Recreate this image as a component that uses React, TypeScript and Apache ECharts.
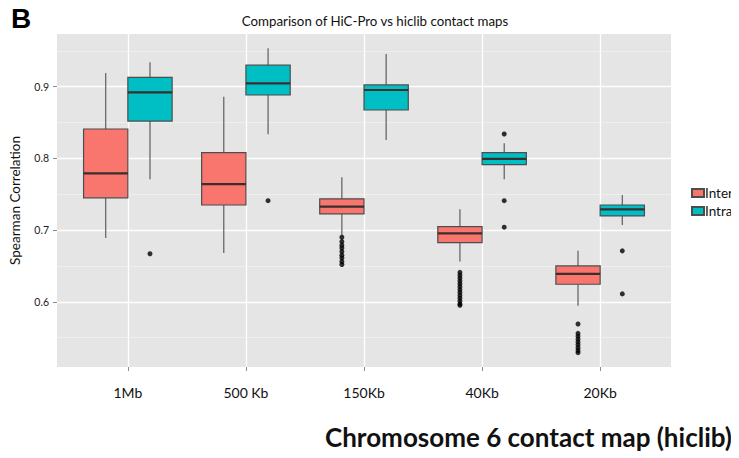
import React, { useEffect, useRef } from "react";
import * as echarts from "echarts";

const categories = ["1Mb", "500 Kb", "150Kb", "40Kb", "20Kb"];
const seriesNames = ["Inter", "Intra"];
// [lower whisker, Q1, median, Q3, upper whisker]
const interStats = [
  [0.689, 0.745, 0.779, 0.841, 0.919],
  [0.668, 0.735, 0.764, 0.808, 0.886],
  [0.693, 0.7225, 0.7327, 0.7436, 0.7736],
  [0.656, 0.6824, 0.6955, 0.7047, 0.729],
  [0.5946, 0.6244, 0.6388, 0.65, 0.6713],
];
const intraStats = [
  [0.771, 0.852, 0.892, 0.913, 0.934],
  [0.8336, 0.8884, 0.9047, 0.93, 0.9535],
  [0.8257, 0.8675, 0.8954, 0.9024, 0.9456],
  [0.771, 0.7912, 0.7992, 0.808, 0.821],
  [0.707, 0.7197, 0.729, 0.735, 0.749],
];
const interOutliers = [
  [],
  [],
  [0.69, 0.684, 0.679, 0.675, 0.67, 0.665, 0.661, 0.656, 0.652],
  [0.641, 0.637, 0.633, 0.629, 0.625, 0.621, 0.617, 0.613, 0.609, 0.605, 0.601, 0.597, 0.595],
  [0.569, 0.556, 0.552, 0.548, 0.544, 0.54, 0.536, 0.532, 0.529],
];
const intraOutliers = [[0.667], [0.741], [], [0.834, 0.741, 0.704], [0.671, 0.611]];
const yTicks = [0.6, 0.7, 0.8, 0.9];
const yMinorLines = [0.55, 0.65, 0.75, 0.85, 0.95];

const COLORS = ["#F8766D", "#00BFC4"];
const FONT = "Lato";
const HALF = 0.1875;

function makeRender(offset: number, color: string) {
  return (params: any, api: any) => {
    const x = api.value(0) + offset;
    const lo = api.value(1), q1 = api.value(2), med = api.value(3), q3 = api.value(4), hi = api.value(5);
    const [xl, yq3] = api.coord([x - HALF, q3]);
    const [xr, yq1] = api.coord([x + HALF, q1]);
    const [xc, ymed] = api.coord([x, med]);
    const ylo = api.coord([x, lo])[1];
    const yhi = api.coord([x, hi])[1];
    const wStyle = { stroke: "#5e5e5e", lineWidth: 1.2 };
    return {
      type: "group",
      children: [
        { type: "line", shape: { x1: xc, y1: yhi, x2: xc, y2: yq3 }, style: wStyle },
        { type: "line", shape: { x1: xc, y1: yq1, x2: xc, y2: ylo }, style: wStyle },
        {
          type: "rect",
          shape: { x: xl, y: yq3, width: xr - xl, height: yq1 - yq3 },
          style: { fill: color, stroke: "#4d4d4d", lineWidth: 1.2 },
        },
        { type: "line", shape: { x1: xl, y1: ymed, x2: xr, y2: ymed }, style: { stroke: "#3a2e2e", lineWidth: 2.2 } },
      ],
    };
  };
}

export default function App() {
  const ref = useRef<HTMLDivElement>(null);
  useEffect(() => {
    if (!ref.current) return;
    const chart = echarts.init(ref.current, undefined, { renderer: "svg" });
    const statsList = [interStats, intraStats];
    const outList = [interOutliers, intraOutliers];
    const offsets = [-HALF, HALF];
    const boxSeries = seriesNames.map((name, s) => ({
      type: "custom",
      name,
      itemStyle: { color: COLORS[s], borderColor: "#4d4d4d", borderWidth: 1 },
      encode: { x: 0, y: [1, 2, 3, 4, 5] },
      data: statsList[s].map((st, i) => [i + 1, ...st]),
      renderItem: makeRender(offsets[s], COLORS[s]),
      z: 3,
      ...(s === 0
        ? {
            markLine: {
              silent: true,
              symbol: "none",
              z: 1,
              label: { show: false },
              lineStyle: { color: "#F3F3F3", width: 0.7, type: "solid" },
              data: yMinorLines.map((v) => ({ yAxis: v })),
            },
          }
        : {}),
    }));
    const outSeries = seriesNames.map((name, s) => ({
      type: "scatter",
      name: name + " outliers",
      symbolSize: 5,
      itemStyle: { color: "#000" },
      z: 4,
      data: outList[s].flatMap((arr, i) => arr.map((v) => [i + 1 + offsets[s], v])),
    }));
    chart.setOption({
      animation: false,
      backgroundColor: "#fff",
      title: {
        text: "Comparison of HiC-Pro vs hiclib contact maps",
        left: 370,
        textAlign: "center",
        top: 9,
        textStyle: { fontFamily: FONT, fontSize: 13.3, fontWeight: "normal", color: "#111" },
      },
      legend: {
        data: seriesNames,
        orient: "vertical",
        left: 686,
        top: 181,
        itemWidth: 12,
        itemHeight: 8,
        itemGap: 4,
        icon: "rect",
        textStyle: { fontFamily: FONT, fontSize: 13.5, color: "#111", padding: [0, 0, 0, -4] },
      },
      grid: {
        left: 55,
        right: 68,
        top: 34,
        bottom: 91,
        show: true,
        backgroundColor: "#E5E5E5",
        borderWidth: 0,
      },
      xAxis: {
        type: "value",
        min: 0.4,
        max: 5.6,
        minInterval: 1,
        maxInterval: 1,
        axisLine: { show: false },
        axisTick: { show: true, length: 4, lineStyle: { color: "#8a8a8a" }, customValues: [1, 2, 3, 4, 5] },
        axisLabel: {
          customValues: [1, 2, 3, 4, 5],
          formatter: (v: number) => (Number.isInteger(v) ? categories[v - 1] : ""),
          fontFamily: FONT,
          fontSize: 14,
          color: "#111",
          margin: 18,
        },
        splitLine: { show: true, lineStyle: { color: "#fff", width: 1.3 } },
      },
      yAxis: {
        type: "value",
        min: 0.509,
        max: 0.9735,
        minInterval: 0.1,
        maxInterval: 0.1,
        name: "Spearman Correlation",
        nameLocation: "middle",
        nameGap: 35,
        nameTextStyle: { fontFamily: FONT, fontSize: 13.5, color: "#111" },
        axisLine: { show: false },
        axisTick: { show: true, length: 4, lineStyle: { color: "#8a8a8a" }, customValues: yTicks },
        axisLabel: {
          customValues: yTicks,
          formatter: (v: number) => {
            const r = Math.round(v * 10) / 10;
            return Math.abs(r - v) < 1e-6 && yTicks.includes(r) ? r.toFixed(1) : "";
          },
          fontFamily: FONT,
          fontSize: 10.5,
          color: "#222",
          margin: 8,
        },
        splitLine: { show: true, lineStyle: { color: "#fff", width: 1.3 } },
      },
      graphic: [
        {
          type: "text",
          left: 11,
          top: 4,
          style: { text: "B", fontFamily: "Liberation Sans", fontWeight: "bold", fontSize: 28, fill: "#000" },
        },
        {
          type: "text",
          left: 325,
          top: 424,
          style: {
            text: "Chromosome 6 contact map (hiclib)",
            fontFamily: FONT,
            fontWeight: "bold",
            fontSize: 26,
            fill: "#111",
          },
        },
      ],
      series: [...boxSeries, ...outSeries],
    });
    return () => chart.dispose();
  }, []);
  return <div ref={ref} style={{ width: 739, height: 458, marginLeft: -8, marginTop: -8 }} />;
}
